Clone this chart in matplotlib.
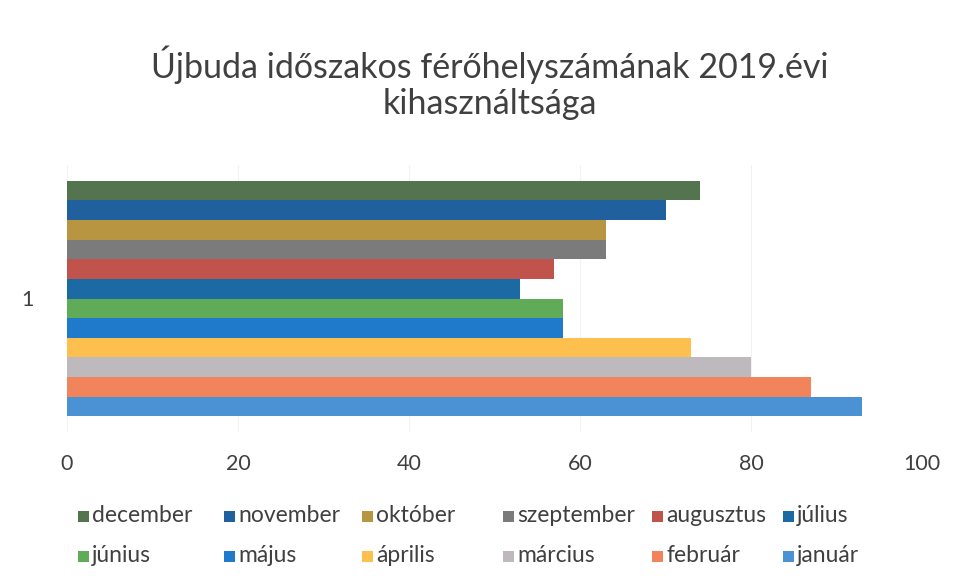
import matplotlib
matplotlib.use("Agg")
import matplotlib.pyplot as plt
from matplotlib.patches import Rectangle

plt.rcParams['font.family'] = ['Lato', 'DejaVu Sans']

months = ["január", "február", "március", "április", "május", "június",
          "július", "augusztus", "szeptember", "október", "november", "december"]
values = [93, 87, 80, 73, 58, 58, 53, 57, 63, 63, 70, 74]
colors = ["#4a92d4", "#f2845c", "#bdb9bd", "#fdc04e", "#1f7acb", "#5fab57",
          "#1b6aa3", "#c0544c", "#7b7b7b", "#b89541", "#21609f", "#54744f"]
category = ["1"]
xticks = [0, 20, 40, 60, 80, 100]

fig = plt.figure(figsize=(9.55, 5.86), dpi=100)
W, H = 955, 586
ax_l, ax_r, ax_t, ax_b = 67, 922, 165, 432
ax = fig.add_axes([ax_l / W, 1 - ax_b / H, (ax_r - ax_l) / W, (ax_b - ax_t) / H])

n = len(months)
h = 1.0
bars = []
for i, (m, v, c) in enumerate(zip(months, values, colors)):
    y = (i - (n - 1) / 2) * h
    b = ax.barh(y, v, height=h, color=c, label=m, linewidth=0)
    bars.append(b)

pad = 0.8
ax.set_ylim(-(n / 2) * h - pad, (n / 2) * h + pad)
ax.set_xlim(0, 100)
ax.set_xticks(xticks)
ax.set_xticklabels([str(t) for t in xticks], fontsize=15.5, color="#404040")
ax.set_yticks([0])
ax.set_yticklabels(category, fontsize=15.5, color="#404040")
ax.tick_params(axis='x', length=0, pad=16)
ax.tick_params(axis='y', length=0, pad=24)
for s in ax.spines.values():
    s.set_visible(False)
ax.grid(axis='x', color="#f2f2f2", linewidth=0.8)
ax.set_axisbelow(True)

fig.text(490 / W, 1 - 65 / H, "Újbuda időszakos férőhelyszámának 2019.évi",
         ha='center', va='center', fontsize=24.5, color="#404040")
fig.text(490 / W, 1 - 104 / H, "kihasználtsága",
         ha='center', va='center', fontsize=24.5, color="#404040")

# legend, Excel style: reversed order, filled row by row at fixed column positions
col_x = [83, 229, 367, 508, 657, 788]
row_y = [516, 556]
legend_months = months[::-1]
legend_colors = colors[::-1]
sq = 11
for k, (m, c) in enumerate(zip(legend_months, legend_colors)):
    r, col = divmod(k, 6)
    cx, cy = col_x[col], row_y[r]
    fig.patches.append(Rectangle(((cx - sq / 2) / W, 1 - (cy + sq / 2) / H), sq / W, sq / H,
                                 transform=fig.transFigure, facecolor=c, edgecolor='none'))
    fig.text((cx + 9) / W, 1 - cy / H, m, ha='left', va='center', fontsize=16.5, color="#404040")

fig.savefig("out.png", dpi=100)
